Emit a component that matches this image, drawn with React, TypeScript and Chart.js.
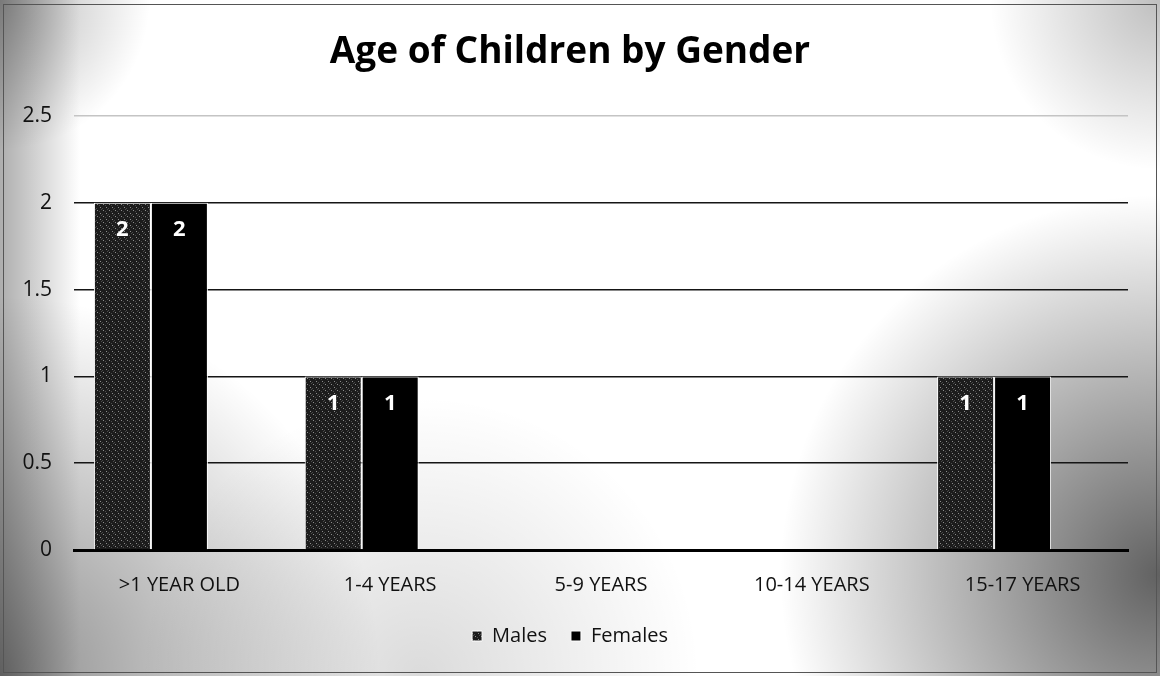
import React, { useEffect, useRef } from "react";
import { Chart, registerables } from "chart.js";

Chart.register(...registerables);

const categories = [">1 YEAR OLD", "1-4 YEARS", "5-9 YEARS", "10-14 YEARS", "15-17 YEARS"];
const males = [2, 1, 0, 0, 1];
const females = [2, 1, 0, 0, 1];
// third (blank) series present in the original clustered chart, shown nowhere
const blankSeries = [null, null, null, null, null];
const yTicks = [0, 0.5, 1, 1.5, 2, 2.5];
const chartTitle = "Age of Children by Gender";

const FONT = "'Open Sans', 'Noto Sans', sans-serif";

const backgroundPlugin = {
  id: "scanBackground",
  beforeDraw(chart: any) {
    const { ctx, width, height } = chart;
    ctx.save();
    ctx.fillStyle = "#ffffff";
    ctx.fillRect(0, 0, width, height);
    const radial = (x: number, y: number, r: number, a: number) => {
      const g = ctx.createRadialGradient(x, y, 0, x, y, r);
      g.addColorStop(0, `rgba(0,0,0,${a})`);
      g.addColorStop(1, "rgba(0,0,0,0)");
      ctx.fillStyle = g;
      ctx.fillRect(0, 0, width, height);
    };
    const lin = ctx.createLinearGradient(0, 0, 80, 0);
    lin.addColorStop(0, "rgba(0,0,0,0.32)");
    lin.addColorStop(1, "rgba(0,0,0,0)");
    ctx.fillStyle = lin;
    ctx.fillRect(0, 0, width, height);
    radial(0, height, 380, 0.45);
    radial(width, height * 0.85, 380, 0.62);
    radial(width, 0, 170, 0.25);
    radial(0, 0, 150, 0.3);
    radial(420, height, 280, 0.14);
    ctx.restore();
  },
  afterDraw(chart: any) {
    const { ctx, width, height } = chart;
    ctx.save();
    ctx.strokeStyle = "#555";
    ctx.lineWidth = 1;
    ctx.strokeRect(3.5, 4.5, width - 7, height - 8);
    ctx.restore();
  },
};

const dataLabelPlugin = {
  id: "barValueLabels",
  afterDatasetsDraw(chart: any) {
    const { ctx } = chart;
    ctx.save();
    ctx.fillStyle = "#ffffff";
    ctx.font = `bold 22px ${FONT}`;
    ctx.textAlign = "center";
    ctx.textBaseline = "middle";
    [0, 1].forEach((di) => {
      const meta = chart.getDatasetMeta(di);
      const data = chart.data.datasets[di].data;
      meta.data.forEach((bar: any, i: number) => {
        const v = data[i];
        if (v == null || v === 0) return;
        ctx.fillText(String(v), bar.x, bar.y + 27);
      });
    });
    ctx.restore();
  },
};

export default function App() {
  const canvasRef = useRef<HTMLCanvasElement | null>(null);

  useEffect(() => {
    document.body.style.margin = "0";
    const canvas = canvasRef.current;
    if (!canvas) return;
    const ctx = canvas.getContext("2d")!;

    const pc = document.createElement("canvas");
    pc.width = 6;
    pc.height = 6;
    const p = pc.getContext("2d")!;
    p.fillStyle = "#1c1c1c";
    p.fillRect(0, 0, 6, 6);
    p.fillStyle = "#8c8c8c";
    p.fillRect(1, 0, 1, 1);
    p.fillRect(4, 3, 1, 1);
    p.fillStyle = "#4a4a4a";
    p.fillRect(3, 1, 1, 1);
    p.fillRect(0, 4, 1, 1);
    p.fillRect(5, 5, 1, 1);
    const malePattern = ctx.createPattern(pc, "repeat");

    const chart = new Chart(canvas, {
      type: "bar",
      data: {
        labels: categories,
        datasets: [
          {
            label: "Males",
            data: males,
            backgroundColor: malePattern as any,
            borderColor: "#ffffff",
            borderWidth: 1,
          },
          {
            label: "Females",
            data: females,
            backgroundColor: "#000000",
            borderColor: "#ffffff",
            borderWidth: 1,
          },
          {
            label: "",
            data: blankSeries,
            backgroundColor: "rgba(0,0,0,0)",
            borderWidth: 0,
          },
        ],
      },
      options: {
        responsive: false,
        animation: false,
        layout: { padding: { left: 12, right: 32, top: 0, bottom: 20 } },
        datasets: { bar: { categoryPercentage: 0.811, barPercentage: 1 } },
        scales: {
          x: {
            type: "category",
            grid: { display: false, drawTicks: false },
            border: { display: true, color: "#000000", width: 3 },
            ticks: {
              font: { family: FONT, size: 20 },
              color: "#111111",
              padding: 23,
              maxRotation: 0,
            },
            afterFit: (s: any) => {
              s.height = 52;
            },
          },
          y: {
            min: 0,
            max: 2.5,
            afterBuildTicks: (s: any) => {
              s.ticks = yTicks.map((v) => ({ value: v }));
            },
            grid: {
              drawTicks: false,
              color: (c: any) =>
                c.tick && c.tick.value === 2.5 ? "#c4c4c4" : c.tick && c.tick.value === 0 ? "rgba(0,0,0,0)" : "#151515",
              lineWidth: 1.5,
            },
            border: { display: false },
            ticks: {
              font: { family: FONT, size: 21 },
              color: "#111111",
              padding: 22,
              callback: (v: any) => String(v),
            },
            afterFit: (s: any) => {
              s.width = 62;
            },
          },
        },
        plugins: {
          title: {
            display: true,
            text: chartTitle,
            color: "#000000",
            font: { family: FONT, size: 37, weight: "bold" },
            padding: { top: 29.8, bottom: 41.8 },
          },
          legend: {
            position: "bottom",
            labels: {
              boxWidth: 10,
              boxHeight: 10,
              padding: 24,
              color: "#111111",
              font: { family: FONT, size: 20 },
              filter: (item: any) => item.text !== "",
            },
          },
          tooltip: { enabled: false },
        },
      },
      plugins: [backgroundPlugin, dataLabelPlugin],
    });

    return () => chart.destroy();
  }, []);

  return (
    <div style={{ width: 1160, height: 676 }}>
      <canvas ref={canvasRef} width={1160} height={676} style={{ display: "block", width: 1160, height: 676 }} />
    </div>
  );
}
